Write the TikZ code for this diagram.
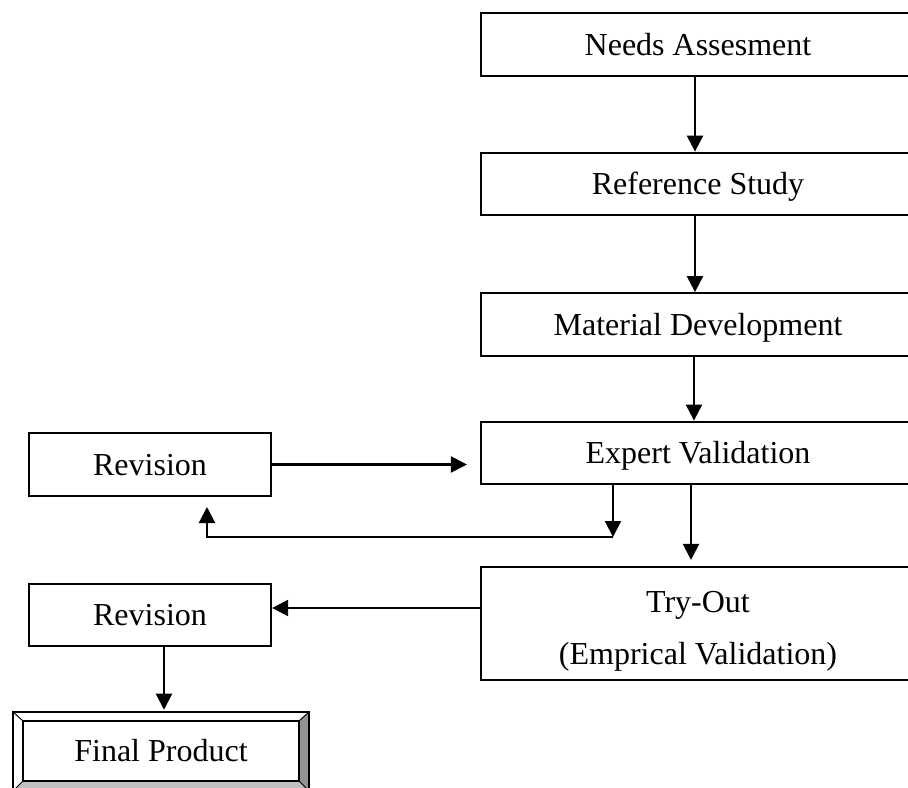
\documentclass[tikz,border=0pt]{standalone}
\usepackage{fontspec}
\setmainfont{Liberation Serif}
\usetikzlibrary{arrows.meta}
\begin{document}
\begin{tikzpicture}[x=0.75pt,y=-0.75pt,
  every node/.style={font=\fontsize{24pt}{39pt}\selectfont},
  wbox/.style={draw, line width=1.6pt, inner sep=0pt, minimum width=325.5pt, minimum height=47pt, text height=16pt, text depth=0pt},
  rbox/.style={draw, line width=1.6pt, inner sep=0pt, minimum width=181.5pt, minimum height=47pt, text height=16pt, text depth=0pt},
  arr/.style={line width=1.6pt, -{Triangle[length=12pt,width=12pt]}}]
\useasboundingbox (0,0) rectangle (908,788);
% right column
\node[wbox] (needs) at (698,44.5) {Needs Assesment};
\node[wbox] (ref) at (698,184) {Reference Study};
\node[wbox] (mat) at (698,324.5) {Material Development};
\node[wbox] (exp) at (698,453) {Expert Validation};
\node[wbox, minimum height=84.75pt] (try) at (698,623.5) {};
\node[align=center, inner sep=0pt] (trytext) at (698,631) {Try-Out\\(Emprical Validation)};
% left column
\node[rbox] (rev1) at (150,464.5) {Revision};
\node[rbox] (rev2) at (150,615) {Revision};
% final product (bevelled)
\node[inner sep=0pt, minimum width=207pt, minimum height=45pt, text height=16pt, text depth=0pt] (fin) at (161,751) {Final Product};
\coordinate (oNW) at ([shift={(-10,-9)}]fin.north west);
\coordinate (oNE) at ([shift={(10,-9)}]fin.north east);
\coordinate (oSW) at ([shift={(-10,10)}]fin.south west);
\coordinate (oSE) at ([shift={(10,10)}]fin.south east);
\fill[gray!85] (oNE) -- (fin.north east) -- (fin.south east) -- (oSE) -- cycle;
\fill[gray!50] (oSW) -- (fin.south west) -- (fin.south east) -- (oSE) -- cycle;
\draw[line width=1.6pt] (oNW) rectangle (oSE);
\draw[line width=1.6pt] (fin.north west) rectangle (fin.south east);
\draw[line width=0.7pt] (oNW) -- (fin.north west) (oNE) -- (fin.north east)
  (oSW) -- (fin.south west) (oSE) -- (fin.south east);
% connectors
\draw[arr] ([xshift=-2.25pt]needs.south) -- ([xshift=-2.25pt]ref.north);
\draw[arr] ([xshift=-2.25pt]ref.south) -- ([xshift=-2.25pt]mat.north);
\draw[arr] ([xshift=-3pt]mat.south) -- ([xshift=-3pt]exp.north);
\draw[arr, shorten >=9.75pt] (rev1.east) -- (rev1.east -| exp.west);
\coordinate (fb) at (613,537);
\coordinate (revin) at (207,496);
\draw[arr] (exp.south -| fb) -- (fb);
\draw[arr, shorten >=8.25pt] (fb) -| (revin);
\draw[arr, shorten >=4.5pt] ([xshift=-5.25pt]exp.south) -- ([xshift=-5.25pt]try.north);
\coordinate (tryarr) at (0,608);
\draw[arr] (try.west |- tryarr) -- (rev2.east |- tryarr);
\coordinate (finx) at (164,0);
\draw[arr, shorten >=1.5pt] (rev2.south -| finx) -- (oNW -| finx);
\end{tikzpicture}
\end{document}
